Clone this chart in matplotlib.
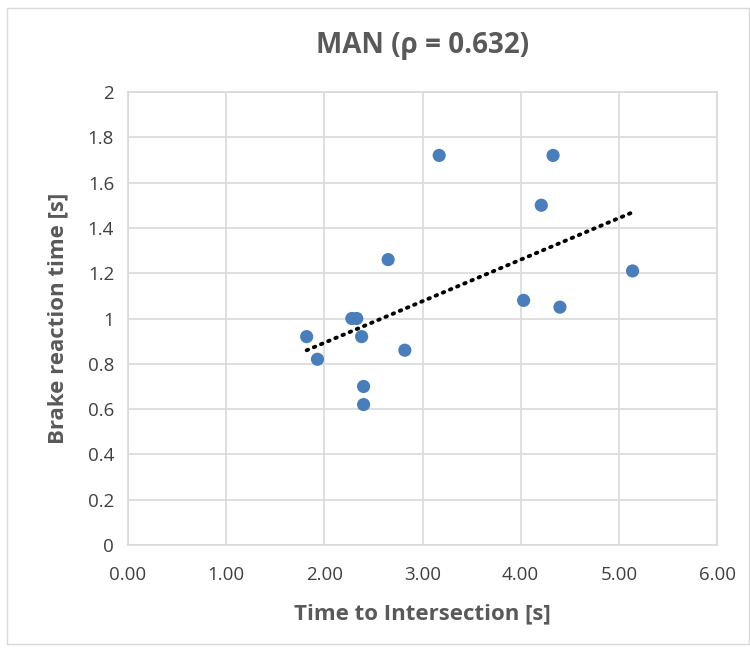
import numpy as np
import matplotlib.pyplot as plt
from matplotlib.patches import Rectangle

plt.rcParams['font.family'] = ['Liberation Sans Narrow', 'Open Sans', 'DejaVu Sans']

# data
tti = [1.82, 1.93, 2.28, 2.33, 2.38, 2.40, 2.40, 2.65, 2.82, 3.17, 4.03, 4.21, 4.33, 4.40, 5.14]
brt = [0.92, 0.82, 1.00, 1.00, 0.92, 0.70, 0.62, 1.26, 0.86, 1.72, 1.08, 1.50, 1.72, 1.05, 1.21]
xticks = [0, 1, 2, 3, 4, 5, 6]
yticks = [0, 0.2, 0.4, 0.6, 0.8, 1, 1.2, 1.4, 1.6, 1.8, 2]
ylabels = ["0", "0.2", "0.4", "0.6", "0.8", "1", "1.2", "1.4", "1.6", "1.8", "2"]

grey = "#595959"
fig = plt.figure(figsize=(7.5, 6.5), dpi=100)
fig.patches.append(Rectangle((7/750, 0.01), 0.999 - 7/750, 1 - 8/650 - 0.01,
                             transform=fig.transFigure, fill=False, ec="#d9d9d9", lw=1))
ax = fig.add_axes([128/750, 1 - 545/650, (717 - 128)/750, (545 - 92)/650])

ax.scatter(tti, brt, s=90, color="#4a7ebb", zorder=3, edgecolors="none")

# linear trendline
k, b = np.polyfit(tti, brt, 1)
xs = np.array([min(tti), max(tti)])
ax.plot(xs, k*xs + b, color="black", lw=2.8, ls=(0, (0.4, 1.6)), dash_capstyle="round", zorder=2)

ax.set_xlim(0, 6)
ax.set_ylim(0, 2)
ax.set_xticks(xticks)
ax.set_xticklabels([f"{v:.2f}" for v in xticks])
ax.set_yticks(yticks)
ax.set_yticklabels(ylabels)
ax.grid(True, color="#d9d9d9", lw=1.2)
ax.set_axisbelow(True)
for s in ax.spines.values():
    s.set_color("#d9d9d9")
    s.set_linewidth(1.2)
ax.tick_params(length=0, labelsize=13.5, labelcolor="#404040")
ax.tick_params(axis="x", pad=15)
ax.tick_params(axis="y", pad=10)

ax.set_xlabel("Time to Intersection [s]", fontsize=16, fontweight="bold", color=grey, labelpad=14)
ax.set_ylabel("Brake reaction time [s]", fontsize=16, fontweight="bold", color=grey, labelpad=14)
ax.set_title("MAN (ρ = 0.632)", fontsize=20, fontweight="bold", color=grey, pad=28)

fig.savefig("out.png", dpi=100)
